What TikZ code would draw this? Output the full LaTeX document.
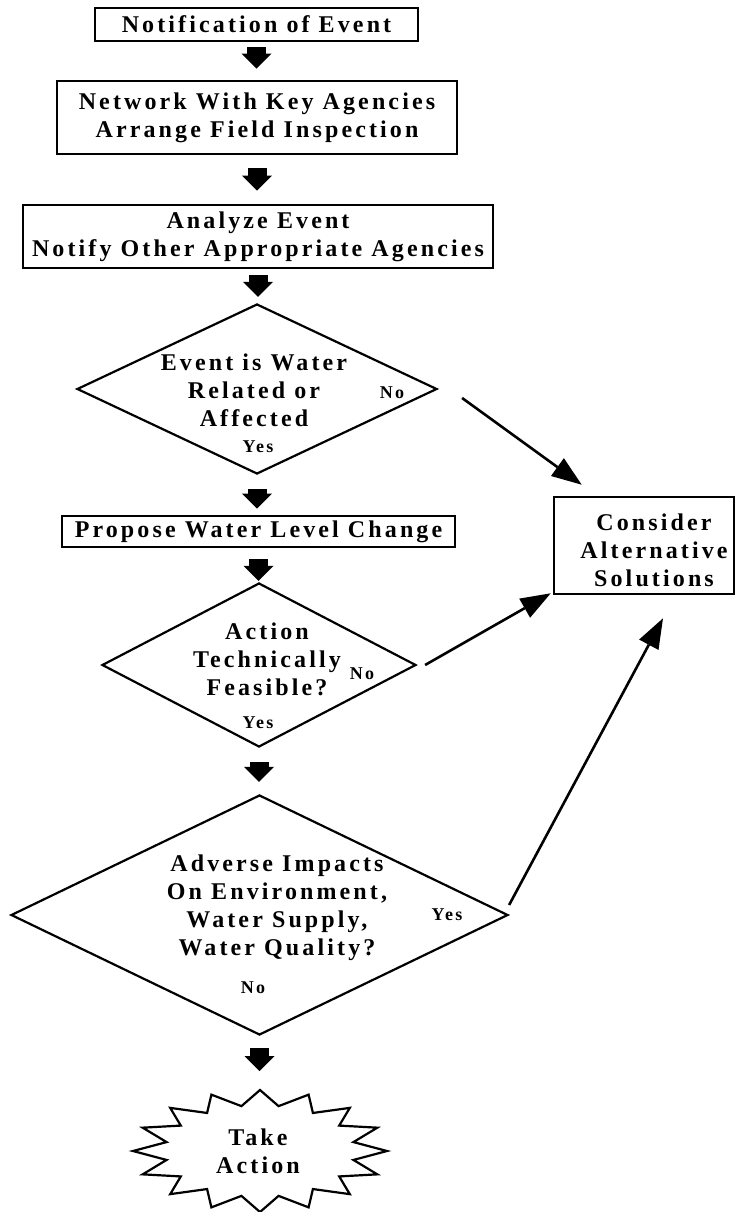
\documentclass[tikz,border=0pt]{standalone}
\usepackage{fontspec}
\setmainfont{Liberation Serif}[LetterSpace=13]
\usetikzlibrary{arrows.meta,shapes.geometric}
\begin{document}
\begin{tikzpicture}[x=1pt,y=-1pt,
  every node/.style={font=\bfseries\fontsize{24}{28}\selectfont},
  box/.style={draw, line width=2.6pt, inner sep=0pt, align=center},
  dia/.style={draw, diamond, line width=2.2pt, inner sep=0pt},
  txt/.style={align=center, inner sep=0pt},
  lbl/.style={font=\bfseries\fontsize{18}{20}\selectfont, inner sep=0pt},
  blockarrow/.style={line width=19pt, -{Triangle[width=30pt,length=15pt,line width=0pt]}},
  thinarrow/.style={line width=2.6pt, -{Triangle[width=22pt,length=30pt,line width=0pt]}},
  starline/.style={line width=2.2pt, line join=miter}
]
\useasboundingbox (0,0) rectangle (736,1212);

\node[box, minimum width=323pt, minimum height=33pt] (b1) at (256.5,24.5) {Notification of Event};
\node[box, minimum width=400pt, minimum height=73pt] (b2) at (257,117.5) {Network With Key Agencies\\Arrange Field Inspection};
\node[box, minimum width=470pt, minimum height=63pt] (b3) at (258,236.5) {Analyze Event\\Notify Other Appropriate Agencies};

\node[dia, minimum width=360pt, minimum height=170pt] (d1) at (257,389) {};
\node[txt] (d1t) at (254,390) {Event is Water\\Related or\\Affected};
\node[lbl] (d1no) at (392,393) {No};
\node[lbl] (d1yes) at (258,447) {Yes};

\node[box, minimum width=393pt, minimum height=31pt] (b4) at (258.5,531.5) {Propose Water Level Change};

\node[dia, minimum width=314pt, minimum height=164pt] (d2) at (259,665) {};
\node[txt] (d2t) at (267,659) {Action\\Technically\\Feasible?};
\node[lbl] (d2no) at (362,674) {No};
\node[lbl] (d2yes) at (258,723) {Yes};

\node[dia, minimum width=497pt, minimum height=240pt] (d3) at (259.5,915) {};
\node[txt] (d3t) at (277,908) {Adverse Impacts\\On Environment,\\Water Supply,\\Water Quality?};
\node[lbl] (d3no) at (253,988) {No};
\node[lbl] (d3yes) at (447,915) {Yes};

\node[box, minimum width=180pt, minimum height=97pt] (alt) at (644,545.5) {};
\node[txt] (altt) at (654,550) {Consider\\Alternative\\Solutions};

\coordinate (starc) at (260,1151);
\coordinate (startop) at (260,1090);
\draw[starline, shift={(starc)}] plot[samples at={0,...,31}, variable=\k]
  ({127*(1-0.25*mod(\k,2))*cos(90+11.25*\k)}, {-61*(1-0.25*mod(\k,2))*sin(90+11.25*\k)}) -- cycle;
\node[txt] (act) at (258,1151) {Take\\Action};

\draw[blockarrow, shorten <=5pt, shorten >=11pt] (b1.south) -- (b1.south |- b2.north);
\draw[blockarrow, shorten <=13pt, shorten >=13pt] (b2.south) -- (b2.south |- b3.north);
\draw[blockarrow, shorten <=6pt, shorten >=6pt] (b3.south) -- (b3.south |- d1.north);
\draw[blockarrow, shorten <=14pt, shorten >=6pt] (d1.south) -- (d1.south |- b4.north);
\draw[blockarrow, shorten <=11pt, shorten >=1pt] (b4.south) -- (b4.south |- d2.north);
\draw[blockarrow, shorten <=14pt, shorten >=12pt] (d2.south) -- (d2.south |- d3.north);
\draw[blockarrow, shorten <=12pt, shorten >=19pt] (d3.south) -- (d3.south |- startop);

\draw[thinarrow] ([shift={(24,9)}]d1.east) -- ([shift={(29,-11)}]alt.north west);
\draw[thinarrow] ([shift={(8,0)}]d2.east) -- ([shift={(-2,-2)}]alt.south west);
\draw[thinarrow] ([shift={(0,-10)}]d3.east) -- ([shift={(19,23)}]alt.south);
\end{tikzpicture}
\end{document}
